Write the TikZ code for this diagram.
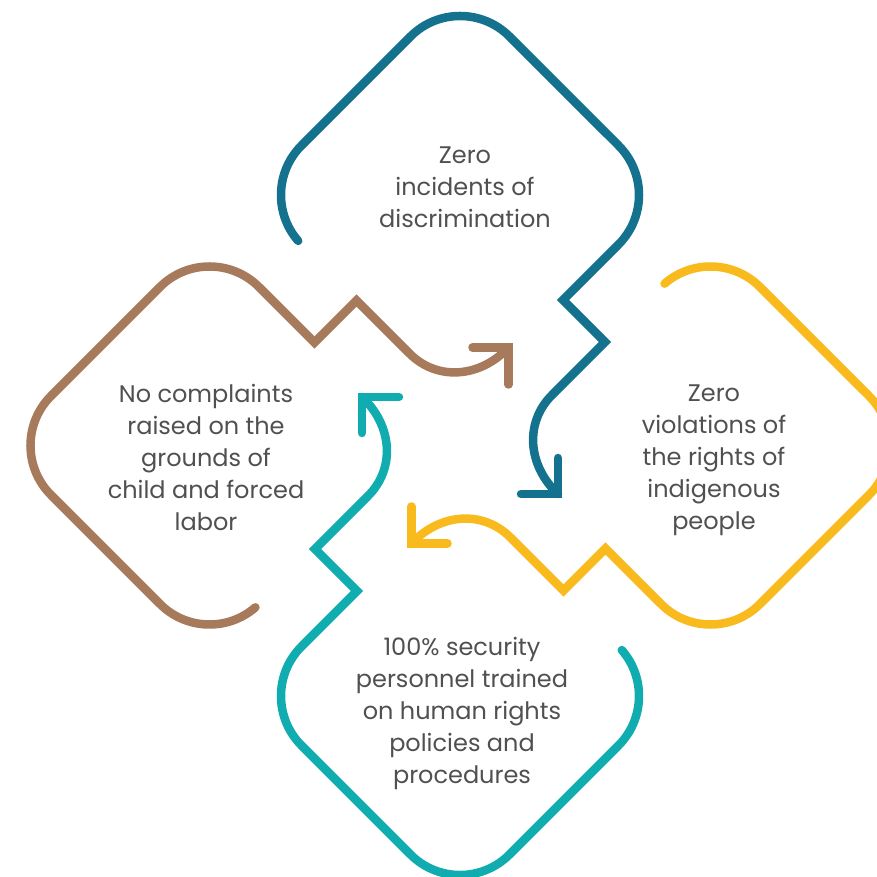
\documentclass[tikz,border=0pt]{standalone}
\usepackage{fontspec}
\setmainfont{Poppins}
\definecolor{armteal}{HTML}{15728F}
\definecolor{armyellow}{HTML}{F8BA1C}
\definecolor{armbrown}{HTML}{A67A5A}
\definecolor{armcyan}{HTML}{10ACB0}
\definecolor{txtgray}{HTML}{505050}
\tikzset{
  armline/.style={line width=8.5pt, line cap=round, line join=miter, miter limit=4},
  armtext/.style={align=center, text=txtgray, font=\fontsize{24}{32}\selectfont, inner sep=0pt}
}
\newcommand\cyclearm[2]{%
  \begin{scope}[rotate=#1, shift={(0,250.5)}]
    \draw[armline, draw=#2]
      (-161.83,-45.93) arc[start angle=221, end angle=135, radius=70]
      -- (-49.5,158.5) arc[start angle=135, end angle=45, radius=70]
      -- (158.5,49.5) arc[start angle=45, end angle=-45, radius=70]
      -- (103,-105) -- (145,-147) -- (92,-200)
      .. controls (64,-228) and (68,-271) .. (98,-299);
    \draw[armline, draw=#2] (98,-263) -- (98,-299) -- (61,-299);
  \end{scope}}
\begin{document}
\begin{tikzpicture}[x=1pt,y=1pt]
  \useasboundingbox (-460,-431.5) rectangle (416,445.5);
  \cyclearm{0}{armteal}
  \cyclearm{-90}{armyellow}
  \cyclearm{-180}{armcyan}
  \cyclearm{-270}{armbrown}
  \node[armtext] (t1) at (5,258.5) {Zero\\incidents of\\discrimination};
  \node[armtext] (t2) at (254,-14.5) {Zero\\violations of\\the rights of\\indigenous\\people};
  \node[armtext] (t3) at (-254,-12) {No complaints\\raised on the\\grounds of\\child and forced\\labor};
  \node[armtext] (t4) at (2,-267.5) {100\% security\\personnel trained\\on human rights\\policies and\\procedures};
\end{tikzpicture}
\end{document}
